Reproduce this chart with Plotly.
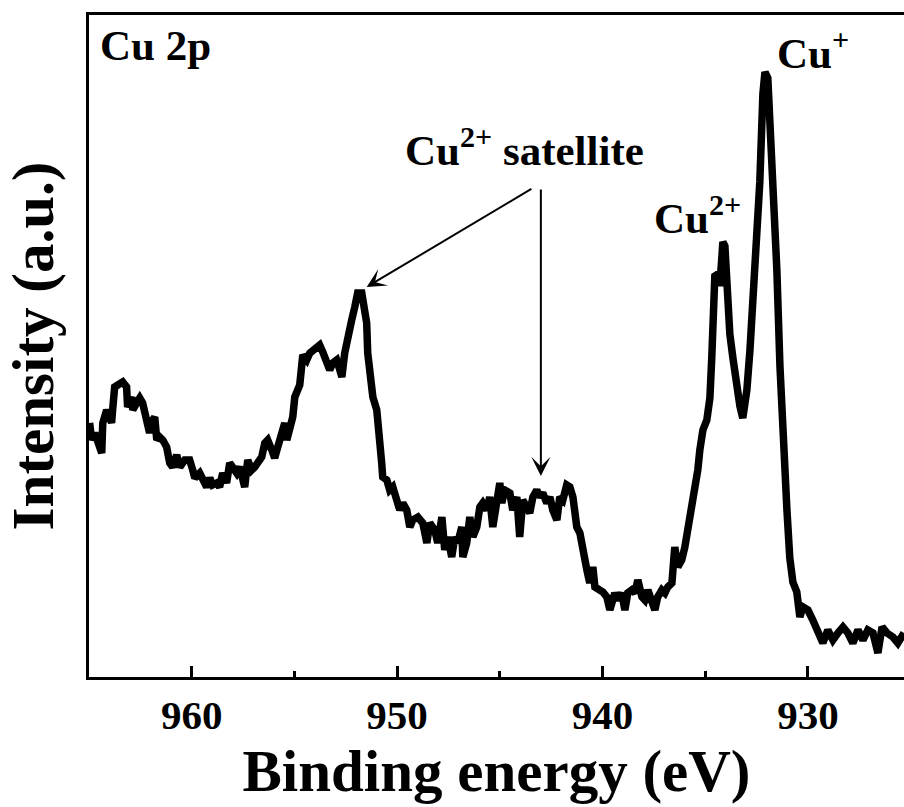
import plotly.graph_objects as go

# Cu 2p XPS spectrum: binding energy (eV) and intensity (a.u.)
binding_energy = [
    964.97, 964.87, 964.72, 964.58, 964.38, 964.33, 964.14, 963.99, 963.90, 963.85,
    963.75, 963.60, 963.36, 963.17, 963.12, 962.92, 962.87, 962.68, 962.53, 962.39,
    962.19, 962.05, 961.90, 961.80, 961.70, 961.56, 961.41, 961.22, 961.07, 960.93,
    960.73, 960.58, 960.34, 960.10, 959.95, 959.85, 959.61, 959.37, 959.27, 959.12,
    958.98, 958.78, 958.64, 958.49, 958.30, 958.15, 958.00, 957.81, 957.66, 957.52,
    957.42, 957.27, 957.08, 956.93, 956.79, 956.59, 956.44, 956.30, 956.10, 955.96,
    955.81, 955.62, 955.47, 955.37, 955.23, 955.08, 954.98, 954.84, 954.74, 954.59,
    954.40, 954.25, 954.01, 953.77, 953.62, 953.43, 953.28, 953.13, 952.94, 952.79,
    952.69, 952.55, 952.40, 952.21, 952.06, 951.92, 951.72, 951.57, 951.48, 951.43,
    951.33, 951.18, 950.99, 950.94, 950.84, 950.75, 950.70, 950.50, 950.36, 950.21,
    950.02, 949.87, 949.72, 949.53, 949.38, 949.24, 948.99, 948.75, 948.55, 948.41,
    948.17, 948.02, 947.82, 947.68, 947.53, 947.34, 947.19, 947.05, 946.85, 946.80,
    946.61, 946.46, 946.31, 946.12, 945.97, 945.83, 945.63, 945.49, 945.34, 945.15,
    945.00, 944.90, 944.76, 944.51, 944.37, 944.17, 944.03, 943.88, 943.69, 943.54,
    943.39, 943.20, 943.05, 942.91, 942.71, 942.56, 942.42, 942.22, 942.08, 941.93,
    941.74, 941.59, 941.44, 941.25, 941.10, 940.96, 940.76, 940.62, 940.47, 940.37,
    940.13, 939.98, 939.79, 939.64, 939.40, 939.25, 939.06, 938.91, 938.77, 938.57,
    938.42, 938.28, 938.08, 937.94, 937.79, 937.60, 937.45, 937.31, 937.11, 936.96,
    936.82, 936.62, 936.48, 936.33, 936.14, 935.99, 935.84, 935.65, 935.50, 935.36,
    935.26, 935.11, 934.92, 934.77, 934.68, 934.63, 934.53, 934.38, 934.29, 934.19,
    934.14, 934.04, 933.94, 933.80, 933.65, 933.46, 933.31, 933.17, 932.97, 932.82,
    932.68, 932.48, 932.34, 932.19, 932.09, 931.95, 931.85, 931.70, 931.51, 931.36,
    931.22, 931.02, 930.88, 930.73, 930.54, 930.39, 930.24, 930.00, 929.76, 929.51,
    929.27, 929.03, 928.78, 928.54, 928.29, 928.05, 927.81, 927.56, 927.32, 927.08,
    926.83, 926.59, 926.39, 926.15, 925.86, 925.62, 925.32,
]
intensity = [
    254, 237, 244, 234, 224, 254, 267, 260, 254, 267,
    290, 292, 295, 290, 270, 280, 267, 274, 279, 274,
    250, 244, 257, 260, 237, 240, 237, 230, 214, 210,
    222, 210, 217, 217, 207, 199, 204, 195, 190, 199,
    192, 194, 190, 204, 194, 214, 210, 204, 210, 200,
    190, 217, 207, 210, 215, 220, 234, 237, 227, 219,
    230, 244, 254, 237, 250, 260, 280, 289, 292, 322,
    317, 324, 327, 332, 325, 315, 307, 314, 317, 307,
    300, 324, 344, 357, 370, 384, 384, 370, 354, 324,
    300, 280, 267, 240, 234, 214, 200, 197, 187, 190,
    177, 167, 174, 167, 150, 157, 160, 154, 134, 154,
    147, 134, 160, 127, 140, 120, 140, 134, 150, 120,
    134, 160, 140, 150, 170, 174, 167, 180, 150, 177,
    194, 174, 187, 184, 167, 180, 140, 177, 170, 164,
    180, 187, 180, 184, 174, 180, 167, 157, 180, 177,
    192, 190, 180, 150, 144, 124, 107, 94, 110, 90,
    87, 85, 80, 67, 84, 77, 84, 67, 84, 87,
    84, 97, 80, 77, 87, 77, 67, 80, 87, 84,
    90, 94, 130, 110, 117, 130, 147, 177, 184, 207,
    227, 247, 257, 279, 319, 367, 401, 403, 391, 419,
    435, 431, 391, 343, 319, 287, 271, 259, 287, 327,
    375, 423, 495, 583, 605, 599, 559, 503, 407, 311,
    231, 167, 119, 95, 85, 60, 70, 67, 57, 44,
    34, 47, 37, 44, 50, 44, 34, 47, 37, 47,
    44, 24, 50, 44, 40, 34, 44,
]

major_ticks = [960, 950, 940, 930]
minor_ticks = [955, 945, 935]

# satellite arrows: (tail energy, tail intensity, tip energy, tip intensity)
satellite_arrows = [
    (943.39, 489, 951.48, 390),
    (943.00, 489, 943.00, 201),
]

FONT = "Liberation Serif, Times New Roman, serif"

fig = go.Figure()
fig.add_trace(go.Scatter(
    x=binding_energy, y=intensity, mode="lines",
    line=dict(color="black", width=7.5),
    showlegend=False, hoverinfo="skip",
))

for tail_e, tail_i, tip_e, tip_i in satellite_arrows:
    fig.add_annotation(
        x=tip_e, y=tip_i, ax=tail_e, ay=tail_i,
        xref="x", yref="y", axref="x", ayref="y",
        text="", showarrow=True, arrowhead=3, arrowsize=1.6,
        arrowwidth=2, arrowcolor="black", standoff=0,
    )

labels = [
    ("Cu 2p", 0.011, 0.9154),
    ("Cu<sup>+</sup>", 0.8417, 0.9033),
    ("Cu<sup>2+</sup>", 0.6908, 0.654),
    ("Cu<sup>2+</sup> satellite", 0.3853, 0.7568),
]
for txt, px, py in labels:
    fig.add_annotation(
        x=px, y=py, xref="paper", yref="paper", text=txt, showarrow=False,
        xanchor="left", yanchor="bottom",
        font=dict(family=FONT, size=43, color="black", weight="bold"),
    )

fig.update_layout(
    width=904, height=807,
    margin=dict(l=89, r=0, t=15, b=130),
    paper_bgcolor="white", plot_bgcolor="white",
    font=dict(family=FONT, color="black", weight="bold"),
    xaxis=dict(
        range=[965, 925.32], showline=True, linewidth=3, linecolor="black",
        mirror=True, showgrid=False, zeroline=False,
        ticks="inside", ticklen=11, tickwidth=3, tickcolor="black",
        tickvals=major_ticks, ticktext=[str(t) for t in major_ticks],
        tickfont=dict(family=FONT, size=41, color="black", weight="bold"),
        minor=dict(ticks="inside", ticklen=6, tickwidth=3, tickcolor="black",
                   tickvals=minor_ticks, showgrid=False),
        title=dict(text="Binding energy (eV)", standoff=12,
                   font=dict(family=FONT, size=59, color="black", weight="bold")),
    ),
    yaxis=dict(
        range=[0, 662], showline=True, linewidth=3, linecolor="black",
        mirror=False, showgrid=False, zeroline=False,
        ticks="", showticklabels=False,
        title=dict(text="Intensity (a.u.)", standoff=20,
                   font=dict(family=FONT, size=59, color="black", weight="bold")),
    ),
)

fig.write_html("out.html")
